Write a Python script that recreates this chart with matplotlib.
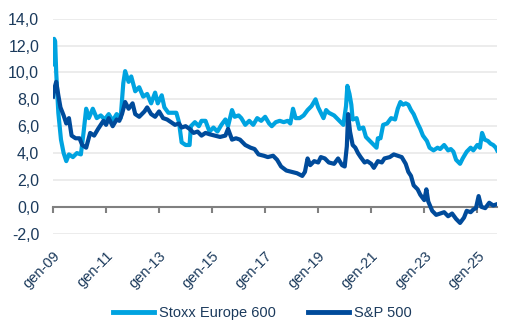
import matplotlib.pyplot as plt
import numpy as np

plt.rcParams['font.family'] = ['Liberation Sans', 'DejaVu Sans']

# Stoxx Europe 600 (anno decimale, valore)
stoxx_t = [2009.00, 2009.04, 2009.08, 2009.12, 2009.2, 2009.3, 2009.4, 2009.5, 2009.6, 2009.75,
           2009.9, 2010.05, 2010.15, 2010.25, 2010.35, 2010.5, 2010.65, 2010.8, 2010.95, 2011.1,
           2011.25, 2011.4, 2011.55, 2011.65, 2011.72, 2011.85, 2011.95, 2012.1, 2012.25, 2012.4,
           2012.55, 2012.7, 2012.85, 2012.95, 2013.1, 2013.2, 2013.35, 2013.5, 2013.65, 2013.75,
           2013.85, 2014.0, 2014.15, 2014.2, 2014.35, 2014.5, 2014.6, 2014.75, 2014.9, 2015.05,
           2015.2, 2015.35, 2015.5, 2015.6, 2015.75, 2015.85, 2016.0, 2016.1, 2016.25, 2016.4,
           2016.55, 2016.7, 2016.85, 2017.0, 2017.15, 2017.25, 2017.4, 2017.55, 2017.7, 2017.85,
           2017.95, 2018.05, 2018.15, 2018.3, 2018.45, 2018.6, 2018.75, 2018.9, 2019.0, 2019.1,
           2019.2, 2019.3, 2019.4, 2019.6, 2019.8, 2019.95, 2020.05, 2020.1, 2020.18, 2020.25,
           2020.3, 2020.45, 2020.55, 2020.7, 2020.8, 2020.9, 2021.05, 2021.2, 2021.25, 2021.35,
           2021.45, 2021.6, 2021.75, 2021.9, 2022.0, 2022.1, 2022.2, 2022.3, 2022.4, 2022.5,
           2022.6, 2022.75, 2022.85, 2022.95, 2023.1, 2023.2, 2023.35, 2023.5, 2023.6, 2023.75,
           2023.9, 2024.0, 2024.1, 2024.2, 2024.35, 2024.45, 2024.6, 2024.75, 2024.85, 2025.0,
           2025.1, 2025.18, 2025.28, 2025.4, 2025.5, 2025.6, 2025.7, 2025.75]
stoxx_v = [10.6, 12.5, 12.3, 10.0, 7.0, 5.0, 4.0, 3.4, 3.9, 3.7,
           4.0, 3.9, 5.5, 7.3, 6.6, 7.3, 6.6, 6.8, 6.5, 6.9,
           6.4, 6.9, 6.6, 9.2, 10.1, 9.3, 9.7, 8.6, 8.9, 8.2,
           8.4, 7.7, 8.5, 7.7, 8.3, 7.4, 7.0, 7.0, 7.0, 6.3,
           4.8, 4.6, 4.6, 6.0, 6.3, 6.0, 6.4, 6.4, 5.6, 5.9,
           5.6, 6.1, 6.5, 6.0, 7.2, 6.7, 6.8, 6.6, 6.1, 6.4,
           6.1, 6.6, 6.4, 6.7, 6.2, 6.0, 6.3, 6.4, 6.3, 6.4,
           6.2, 7.3, 6.6, 6.6, 6.8, 7.2, 7.5, 8.0, 7.4, 7.0,
           6.6, 7.2, 7.0, 6.8, 6.4, 6.1, 7.5, 9.0, 8.4, 7.6,
           6.5, 6.6, 5.8, 5.9, 5.2, 5.0, 4.7, 4.4, 5.1, 5.1,
           6.1, 6.2, 6.6, 6.5, 7.3, 7.8, 7.6, 7.7, 7.6, 7.2,
           6.9, 6.2, 5.8, 5.3, 4.9, 4.4, 4.2, 4.4, 4.3, 4.6,
           4.2, 4.3, 4.1, 3.5, 3.2, 3.6, 4.1, 4.4, 4.2, 4.6,
           4.4, 5.5, 5.0, 4.9, 4.7, 4.6, 4.4, 4.2]

# S&P 500
sp_t = [2009.0, 2009.05, 2009.12, 2009.2, 2009.28, 2009.4, 2009.5, 2009.6, 2009.7, 2009.85,
        2010.0, 2010.1, 2010.25, 2010.4, 2010.55, 2010.7, 2010.9, 2011.0, 2011.1, 2011.25,
        2011.4, 2011.5, 2011.6, 2011.72, 2011.85, 2012.0, 2012.1, 2012.25, 2012.45, 2012.55,
        2012.7, 2012.85, 2013.0, 2013.15, 2013.3, 2013.45, 2013.6, 2013.75, 2013.85, 2014.0,
        2014.15, 2014.3, 2014.45, 2014.6, 2014.75, 2014.9, 2015.1, 2015.3, 2015.5, 2015.6,
        2015.75, 2015.9, 2016.05, 2016.25, 2016.45, 2016.6, 2016.75, 2016.95, 2017.1, 2017.3,
        2017.45, 2017.6, 2017.8, 2018.0, 2018.2, 2018.4, 2018.5, 2018.6, 2018.7, 2018.85,
        2019.0, 2019.1, 2019.25, 2019.4, 2019.6, 2019.75, 2019.9, 2020.0, 2020.08, 2020.13,
        2020.2, 2020.3, 2020.4, 2020.5, 2020.6, 2020.75, 2020.85, 2021.0, 2021.1, 2021.25,
        2021.4, 2021.5, 2021.7, 2021.85, 2022.0, 2022.15, 2022.3, 2022.4, 2022.5, 2022.6,
        2022.75, 2022.85, 2023.0, 2023.08, 2023.15, 2023.3, 2023.45, 2023.6, 2023.75, 2023.9,
        2024.05, 2024.2, 2024.35, 2024.5, 2024.6, 2024.75, 2024.85, 2024.95, 2025.05, 2025.15,
        2025.3, 2025.45, 2025.6, 2025.75]
sp_v = [8.2, 8.8, 9.3, 8.3, 7.4, 6.8, 6.2, 6.6, 5.3, 5.1,
        5.1, 4.6, 4.4, 5.5, 5.3, 5.8, 6.4, 6.1, 6.6, 6.0,
        6.5, 6.4, 6.9, 7.8, 7.3, 7.7, 6.9, 6.7, 7.1, 7.4,
        6.9, 6.7, 7.1, 6.6, 6.5, 6.3, 6.1, 6.2, 5.9, 6.0,
        5.8, 5.5, 5.6, 5.3, 5.5, 5.4, 5.3, 5.2, 5.3, 5.8,
        5.0, 5.1, 5.0, 4.6, 4.4, 4.3, 3.9, 3.8, 3.7, 3.8,
        3.5, 3.0, 2.7, 2.6, 2.5, 2.3, 2.6, 3.6, 3.1, 3.4,
        3.3, 3.7, 3.6, 3.3, 3.2, 3.6, 3.1, 3.0, 4.5, 6.9,
        5.6, 4.6, 4.4, 4.0, 3.7, 3.3, 3.4, 3.2, 2.9, 3.4,
        3.3, 3.6, 3.7, 3.9, 3.8, 3.7, 3.2, 2.6, 2.3, 1.6,
        1.3, 0.9, 0.5, 1.3, 0.4, -0.3, -0.6, -0.5, -0.4, -0.7,
        -0.5, -0.9, -1.2, -0.8, -0.3, -0.4, -0.2, -0.1, 0.8, 0.0,
        -0.1, 0.3, 0.1, 0.2]

tick_anni = [2009, 2011, 2013, 2015, 2017, 2019, 2021, 2023, 2025]
tick_labels = ['gen-%02d' % (a % 100) for a in tick_anni]
y_ticks = [-2, 0, 2, 4, 6, 8, 10, 12, 14]

azzurro = '#00A3E0'
blu = '#004B9B'
testo = '#1B3A5C'

fig = plt.figure(figsize=(5.25, 3.31), dpi=100)
ax = fig.add_axes([0.101, 0.294, 0.846, 0.6495])

ax.plot(stoxx_t, stoxx_v, color=azzurro, lw=3.0, label='Stoxx Europe 600', solid_joinstyle='round')
ax.plot(sp_t, sp_v, color=blu, lw=3.0, label='S&P 500', solid_joinstyle='round')

ax.set_xlim(2009, 2025.75)
ax.set_ylim(-2, 14)
ax.set_yticks(y_ticks)
ax.set_yticklabels([('%.1f' % v).replace('.', ',') for v in y_ticks])
ax.set_xticks(tick_anni)
ax.set_xticklabels(tick_labels)

ax.grid(axis='y', color='#EBEBEB', lw=1.3)
ax.set_axisbelow(True)
for s in ['top', 'right', 'left']:
    ax.spines[s].set_visible(False)
ax.spines['bottom'].set_position(('data', 0))
ax.spines['bottom'].set_color('#808080')
ax.spines['bottom'].set_linewidth(1.5)
ax.spines['bottom'].set_zorder(1)

ax.tick_params(axis='y', length=0, pad=10, labelsize=11.5, labelcolor=testo)
ax.tick_params(axis='x', length=4, width=1.5, color='#808080', pad=26, labelsize=10.5, labelcolor=testo)
plt.setp(ax.get_xticklabels(), rotation=45, ha='right', va='top', rotation_mode='anchor')

leg = fig.legend(loc='center', bbox_to_anchor=(0.5, 0.054), ncol=2, frameon=False,
                 fontsize=10.5, handlelength=2.8, handletextpad=0.35, columnspacing=2.2)
for t in leg.get_texts():
    t.set_color(testo)
for l in leg.get_lines():
    l.set_linewidth(3.5)

fig.savefig('out.png', dpi=100)
